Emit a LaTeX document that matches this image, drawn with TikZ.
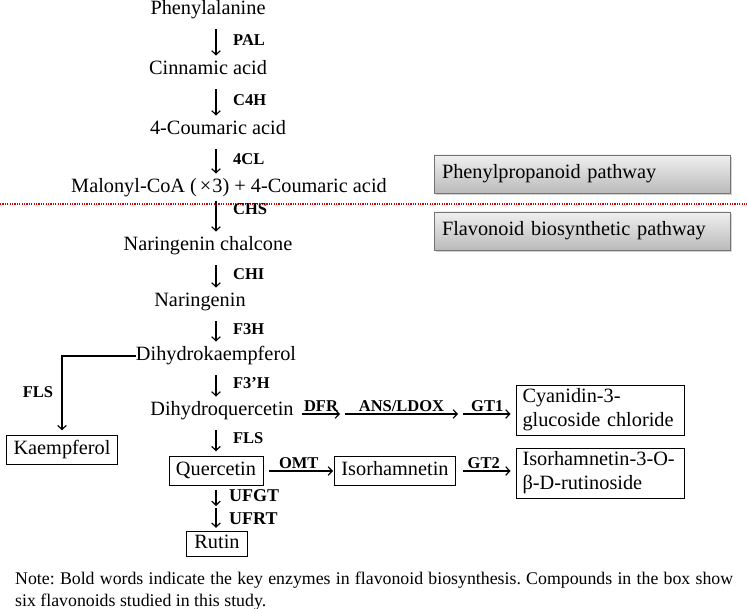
\documentclass[tikz,border=0pt]{standalone}
\usepackage{fontspec}
\setmainfont{Liberation Serif}
\usetikzlibrary{arrows.meta,shadows,calc}
\begin{document}
\begin{tikzpicture}[x=1pt,y=-1pt,
  txt/.style={inner sep=0pt,font=\fontsize{20.3}{24}\selectfont,text height=14pt,text depth=4.5pt},
  cbox/.style={draw,line width=0.9pt,inner xsep=7pt,inner ysep=5pt,font=\fontsize{20.3}{24}\selectfont,text height=14pt,text depth=4.5pt},
  mbox/.style={draw,line width=0.9pt,inner xsep=6.5pt,inner ysep=3pt,align=left,text width=155pt,minimum height=50pt,font=\fontsize{20.3}{24}\selectfont},
  gbox/.style={draw=black!55,line width=0.8pt,top color=black!6,bottom color=black!27,
    drop shadow={shadow xshift=2pt,shadow yshift=-2.5pt,opacity=0.35},
    minimum width=296pt,minimum height=38pt,text width=280pt,align=left,inner xsep=8pt,
    font=\fontsize{20.3}{24}\selectfont},
  enz/.style={inner sep=1.5pt,font=\fontsize{16.5}{19}\selectfont\bfseries},
  enzr/.style={enz,anchor=west,xshift=15pt},
  arr/.style={-{Straight Barb[length=4pt,width=8.5pt,line width=1.2pt]},line width=1.3pt},
  vt/.style={arr,shorten <=10pt,shorten >=5pt},
  reddot/.style={draw=red!85!black,line width=2.4pt,dash pattern=on 1.2pt off 1.2pt}
]
\useasboundingbox (0,0) rectangle (747,609);
\coordinate (ax) at (216,0);

% main column
\node[txt] (phe) at (208,10) {Phenylalanine};
\node[txt] (cin) at (208,70) {Cinnamic acid};
\node[txt] (cou) at (218,130) {4-Coumaric acid};
\node[txt] (mal) at (229,188) {Malonyl-CoA (\kern3pt×\kern1pt3) + 4-Coumaric acid};
\node[txt] (nch) at (208,246) {Naringenin chalcone};
\node[txt] (nar) at (200,302) {Naringenin};
\node[txt] (dhk) at (216,356) {Dihydrokaempferol};
\node[txt] (dhq) at (222,411) {Dihydroquercetin};
\node[cbox] (que) at (216,471) {Quercetin};
\node[cbox] (iso) at (395,471) {Isorhamnetin};
\node[cbox] (kae) at (62,450) {Kaempferol};
\node[cbox,inner xsep=8pt,inner ysep=3.5pt] (rut) at (217,544) {Rutin};
\node[mbox] (cya) at (600,410) {\mbox{Cyanidin-3-}\\\mbox{glucoside chloride}};
\node[mbox] (ish) at (600,473) {\mbox{Isorhamnetin-3-O-}\\\mbox{β-D-rutinoside}};

% pathway boxes and separator
\node[gbox] (pp) at (582,174) {Phenylpropanoid pathway};
\node[gbox] (fb) at (582,231) {Flavonoid biosynthetic pathway};
\coordinate (rl) at (0,204);
\coordinate (rr) at (747,204);
\draw[reddot] (rl) -- (rr);

% vertical arrows
\draw[vt] (phe.south -| ax) -- (cin.north -| ax) node[midway,enzr] {PAL};
\draw[vt] (cin.south -| ax) -- (cou.north -| ax) node[midway,enzr] {C4H};
\draw[vt] (cou.south -| ax) -- (mal.north -| ax) node[midway,enzr] {4CL};
\draw[vt,shorten <=4pt] (mal.south -| ax) -- (nch.north -| ax) node[pos=0.3,enzr] {CHS};
\draw[vt] (nch.south -| ax) -- (nar.north -| ax) node[midway,enzr] {CHI};
\draw[vt] (nar.south -| ax) -- (dhk.north -| ax) node[midway,enzr] {F3H};
\draw[vt] (dhk.south -| ax) -- (dhq.north -| ax) node[midway,enzr] {F3’H};
\draw[vt] (dhq.south -| ax) -- (que.north -| ax) node[midway,enzr] {FLS};
\coordinate (um) at (216,506);
\draw[arr,shorten <=4pt] (que.south -| ax) -- (um) node[midway,enzr,xshift=-4pt,font=\fontsize{18}{20}\selectfont\bfseries] {UFGT};
\draw[arr,shorten <=2pt,shorten >=3pt] (um) -- (rut.north -| ax) node[midway,enzr,xshift=-4pt,font=\fontsize{18}{20}\selectfont\bfseries] {UFRT};

% side branch to kaempferol
\draw[arr,line width=1.1pt,shorten >=5pt] (dhk.west) -| (kae.north);
\node[enz] (fls2) at (38,392) {FLS};

% horizontal arrows
\coordinate (h1) at (302,414);
\coordinate (h2) at (340,414);
\coordinate (h3) at (345,414);
\coordinate (h4) at (458,414);
\coordinate (h5) at (463,414);
\draw[arr] (h1) -- (h2) node[midway,above,enz] {DFR};
\draw[arr] (h3) -- (h4) node[midway,above,enz] {ANS/LDOX};
\draw[arr,shorten >=5pt] (h5) -- (h5 -| cya.west) node[midway,above,enz,xshift=-2pt] {GT1};
\draw[arr,shorten <=6pt,shorten >=1pt] (que.east) -- (iso.west) node[midway,above,enz] {OMT};
\draw[arr,shorten <=7pt,shorten >=5pt] (iso.east) -- (iso.east -| ish.west) node[midway,above,enz,xshift=-2pt] {GT2};

% note
\node[anchor=west,inner sep=0pt,font=\fontsize{17.8}{21}\selectfont\frenchspacing] (n1) at (15,580)
  {\makebox[718pt][s]{Note: Bold words indicate the key enzymes in flavonoid biosynthesis. Compounds in the box show}};
\node[anchor=west,inner sep=0pt,font=\fontsize{17.8}{21}\selectfont\frenchspacing] (n2) at (15,602)
  {six flavonoids studied in this study.};
\end{tikzpicture}
\end{document}
